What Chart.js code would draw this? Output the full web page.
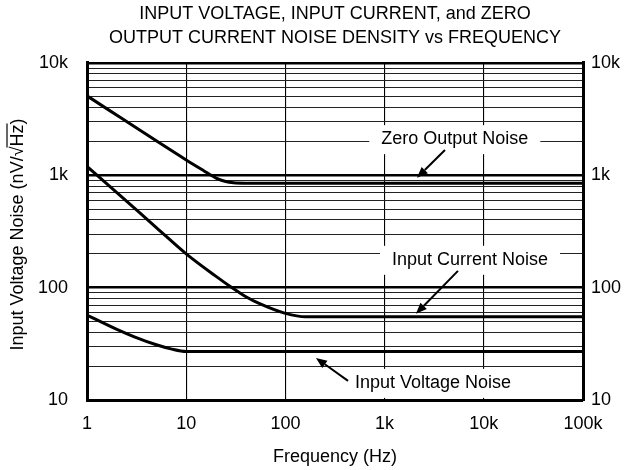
<!DOCTYPE html>
<html>
<head>
<meta charset="utf-8">
<script src="https://cdn.jsdelivr.net/npm/chart.js@4"></script>
<style>
  html, body { margin: 0; padding: 0; background: #fff; }
  canvas { display: block; }
</style>
</head>
<body>
<canvas id="noiseChart" width="624" height="470"></canvas>
<script>
// data
const freqTicks = [1, 10, 100, 1000, 10000, 100000];
const freqTickLabels = ['1', '10', '100', '1k', '10k', '100k'];
const noiseTicks = [10, 100, 1000, 10000];
const noiseTickLabels = ['10', '100', '1k', '10k'];

const zeroFreq = [1, 10, 15, 20, 25, 30, 40, 100000];
const zeroNoise = [5100, 1370, 1100, 945, 880, 857, 850, 850];

const currentFreq = [1, 2, 5, 10, 20, 28, 40, 55, 100, 160, 100000];
const currentNoise = [1200, 700, 343, 200, 126, 102, 83, 72, 59, 55, 55];

const voltageFreq = [1, 2, 3, 5, 7, 10, 100000];
const voltageNoise = [57, 42.5, 36.5, 31, 28.5, 27, 27];

// callouts, in data coordinates
const callouts = [
  { text: 'Zero Output Noise', at: [5100, 2100], align: 'center', from: [4060, 1680], to: [2120, 950] },
  { text: 'Input Current Noise', at: [7260, 177], align: 'center', from: [5490, 141], to: [2070, 58.5] },
  { text: 'Input Voltage Noise', at: [503, 14.2], align: 'left', from: [428, 14.8], to: [203, 23.7] }
];

const FONT = '"Liberation Sans", Arial, Helvetica, sans-serif';
const SIZE = 18;

const pairs = (xs, ys) => xs.map((x, i) => ({ x: x, y: ys[i] }));

const minorTicks = [];
noiseTicks.slice(0, -1).forEach(d => {
  for (let m = 1; m < 10; m++) minorTicks.push(d * m);
});
minorTicks.push(noiseTicks[noiseTicks.length - 1]);

const isDecade = v => noiseTicks.includes(v);

const calloutPlugin = {
  id: 'callouts',
  beforeDatasetsDraw(chart) {
    const { ctx, scales: { x, y } } = chart;
    ctx.save();
    ctx.font = SIZE + 'px ' + FONT;
    callouts.forEach(c => {
      const w = ctx.measureText(c.text).width;
      const px = x.getPixelForValue(c.at[0]);
      const py = y.getPixelForValue(c.at[1]);
      const left = c.align === 'center' ? px - w / 2 : px;
      ctx.fillStyle = '#fff';
      ctx.fillRect(left - 12, py - 14, w + 24, 29);
    });
    ctx.restore();
  },
  afterDatasetsDraw(chart) {
    const { ctx, scales: { x, y } } = chart;
    ctx.save();
    ctx.font = SIZE + 'px ' + FONT;
    ctx.fillStyle = '#000';
    ctx.strokeStyle = '#000';
    ctx.textBaseline = 'middle';
    callouts.forEach(c => {
      ctx.textAlign = c.align;
      ctx.fillText(c.text, x.getPixelForValue(c.at[0]), y.getPixelForValue(c.at[1]));

      const x1 = x.getPixelForValue(c.from[0]), y1 = y.getPixelForValue(c.from[1]);
      const x2 = x.getPixelForValue(c.to[0]), y2 = y.getPixelForValue(c.to[1]);
      const a = Math.atan2(y2 - y1, x2 - x1);
      const len = 11, half = 4.5;
      const bx = x2 - len * Math.cos(a), by = y2 - len * Math.sin(a);
      ctx.lineWidth = 2;
      ctx.beginPath();
      ctx.moveTo(x1, y1);
      ctx.lineTo(bx, by);
      ctx.stroke();
      ctx.beginPath();
      ctx.moveTo(x2, y2);
      ctx.lineTo(bx + half * Math.sin(a), by - half * Math.cos(a));
      ctx.lineTo(bx - half * Math.sin(a), by + half * Math.cos(a));
      ctx.closePath();
      ctx.fill();
    });

    // y axis title with the overline on Hz
    const area = chart.chartArea;
    const cy = (area.top + area.bottom) / 2 + 3;
    const main = 'Input Voltage Noise (nV/\u221A';
    const hz = 'Hz';
    const tail = ')';
    const total = ctx.measureText(main + hz + tail).width;
    const wMain = ctx.measureText(main).width;
    const wHz = ctx.measureText(hz).width;
    ctx.translate(18, cy);
    ctx.rotate(-Math.PI / 2);
    ctx.textAlign = 'left';
    ctx.fillText(main + hz + tail, -total / 2, 0);
    ctx.lineWidth = 1.2;
    ctx.beginPath();
    ctx.moveTo(-total / 2 + wMain - 1, -11);
    ctx.lineTo(-total / 2 + wMain + wHz + 1, -11);
    ctx.stroke();
    ctx.restore();
  }
};

const lineStyle = {
  borderColor: '#000',
  borderWidth: 3,
  pointRadius: 0,
  fill: false,
  cubicInterpolationMode: 'monotone'
};

const ctx = document.getElementById('noiseChart').getContext('2d');
const noiseChart = new Chart(ctx, {
  type: 'line',
  data: {
    datasets: [
      { label: 'Zero Output Noise', data: pairs(zeroFreq, zeroNoise), ...lineStyle },
      { label: 'Input Current Noise', data: pairs(currentFreq, currentNoise), ...lineStyle },
      { label: 'Input Voltage Noise', data: pairs(voltageFreq, voltageNoise), ...lineStyle }
    ]
  },
  options: {
    responsive: false,
    animation: false,
    devicePixelRatio: 1,
    layout: { padding: 0 },
    plugins: {
      legend: { display: false },
      tooltip: { enabled: false },
      title: {
        display: true,
        fullSize: false,
        text: ['INPUT VOLTAGE, INPUT CURRENT, and ZERO', 'OUTPUT CURRENT NOISE DENSITY vs FREQUENCY'],
        color: '#000',
        font: { family: FONT, size: SIZE, weight: 'normal', lineHeight: 1.333 },
        padding: { top: 2, bottom: 13 }
      }
    },
    scales: {
      x: {
        type: 'logarithmic',
        min: 1,
        max: 100000,
        afterBuildTicks: scale => { scale.ticks = freqTicks.map(v => ({ value: v })); },
        afterFit: scale => { scale.height = 70; },
        ticks: {
          color: '#000',
          font: { family: FONT, size: SIZE },
          padding: 13,
          maxRotation: 0,
          autoSkip: false,
          callback: (value) => freqTickLabels[freqTicks.indexOf(value)] ?? ''
        },
        grid: { color: '#000', lineWidth: 1.1, drawTicks: false },
        border: { color: '#000', width: 3 },
        title: {
          display: true,
          text: 'Frequency (Hz)',
          color: '#000',
          font: { family: FONT, size: SIZE },
          padding: { top: 4, bottom: 2 }
        }
      },
      y: {
        type: 'logarithmic',
        position: 'left',
        min: 10,
        max: 10000,
        afterBuildTicks: scale => { scale.ticks = minorTicks.map(v => ({ value: v })); },
        afterFit: scale => { scale.width = 87; },
        ticks: {
          color: '#000',
          font: { family: FONT, size: SIZE },
          padding: 19,
          autoSkip: false,
          callback: (value) => isDecade(value) ? noiseTickLabels[noiseTicks.indexOf(value)] : ''
        },
        grid: {
          drawTicks: false,
          color: c => isDecade(c.tick && c.tick.value) ? '#000' : '#222',
          lineWidth: c => isDecade(c.tick && c.tick.value) ? 2.6 : 1.1
        },
        border: { color: '#000', width: 3 }
      },
      yRight: {
        type: 'logarithmic',
        position: 'right',
        min: 10,
        max: 10000,
        afterBuildTicks: scale => { scale.ticks = noiseTicks.map(v => ({ value: v })); },
        afterFit: scale => { scale.width = 41; },
        ticks: {
          color: '#000',
          font: { family: FONT, size: SIZE },
          padding: 8,
          autoSkip: false,
          callback: (value) => noiseTickLabels[noiseTicks.indexOf(value)] ?? ''
        },
        grid: { display: false, drawTicks: false },
        border: { color: '#000', width: 3 }
      }
    }
  },
  plugins: [calloutPlugin]
});
</script>
</body>
</html>
